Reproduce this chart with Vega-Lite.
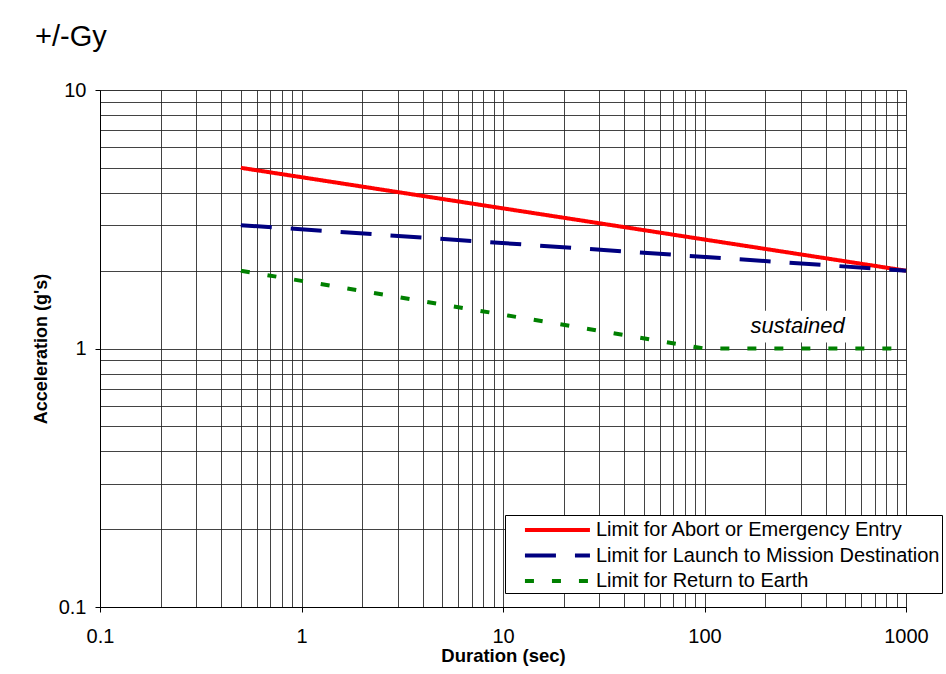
{
  "$schema": "https://vega.github.io/schema/vega-lite/v6.json",
  "width": 806,
  "height": 517,
  "autosize": {"type": "none"},
  "padding": {"left": 100, "top": 90, "right": 40, "bottom": 67},
  "background": "white",
  "title": {"text": "+/-Gy", "anchor": "start", "frame": "group", "dx": -65, "offset": 5, "baseline": "alphabetic", "font": "Liberation Sans", "fontSize": 29, "fontWeight": "normal", "color": "black"},
  "config": {
    "view": {"stroke": "#999", "strokeWidth": 1},
    "font": "Liberation Sans"
  },
  "layer": [
    {
      "data": {"values": [{"x1": 160, "x2": 540, "y1": 1.055, "y2": 1.4}]},
      "mark": {"type": "rect", "fill": "white", "stroke": null},
      "encoding": {
        "x": {"field": "x1", "type": "quantitative", "scale": {"type": "log", "domain": [0.1, 1000]}},
        "x2": {"field": "x2"},
        "y": {"field": "y1", "type": "quantitative", "scale": {"type": "log", "domain": [0.1, 10]}},
        "y2": {"field": "y2"}
      }
    },
    {
      "data": {"values": [{"x": 290, "y": 1.22, "label": "sustained"}]},
      "mark": {"type": "text", "fontStyle": "italic", "fontSize": 22, "font": "Liberation Sans", "color": "black", "align": "center", "baseline": "middle"},
      "encoding": {
        "x": {"field": "x", "type": "quantitative", "scale": {"type": "log", "domain": [0.1, 1000]}},
        "y": {"field": "y", "type": "quantitative", "scale": {"type": "log", "domain": [0.1, 10]}},
        "text": {"field": "label"}
      }
    },
    {
      "data": {"values": [
        {"series": "Limit for Abort or Emergency Entry", "duration": 0.5, "accel": 5},
        {"series": "Limit for Abort or Emergency Entry", "duration": 1000, "accel": 2},
        {"series": "Limit for Launch to Mission Destination", "duration": 0.5, "accel": 3},
        {"series": "Limit for Launch to Mission Destination", "duration": 1000, "accel": 2},
        {"series": "Limit for Return to Earth", "duration": 0.5, "accel": 2},
        {"series": "Limit for Return to Earth", "duration": 100, "accel": 1},
        {"series": "Limit for Return to Earth", "duration": 1000, "accel": 1}
      ]},
      "mark": {"type": "line", "strokeWidth": 4, "strokeCap": "butt", "clip": false},
      "encoding": {
        "x": {
          "field": "duration", "type": "quantitative",
          "scale": {"type": "log", "domain": [0.1, 1000]},
          "axis": {
            "title": "Duration (sec)",
            "values": [0.1,0.2,0.3,0.4,0.5,0.6,0.7,0.8,0.9,1,2,3,4,5,6,7,8,9,10,20,30,40,50,60,70,80,90,100,200,300,400,500,600,700,800,900,1000],
            "labelExpr": "abs(log(datum.value)/LN10 - round(log(datum.value)/LN10)) < 1e-6 ? format(datum.value, '~g') : ''",
            "tickOpacity": {"condition": {"test": "abs(log(datum.value)/LN10 - round(log(datum.value)/LN10)) < 1e-6", "value": 1}, "value": 0},
            "tickSize": 5,
            "tickColor": "black",
            "domainColor": "black",
            "gridColor": "#222",
            "gridOpacity": 0.85,
            "labelFont": "Liberation Sans",
            "labelFontSize": 20,
            "labelColor": "black",
            "labelPadding": 14,
            "labelFlush": false,
            "labelOverlap": false,
            "titleFont": "Liberation Sans",
            "titleFontSize": 18.5,
            "titleFontWeight": "bold",
            "titleColor": "black",
            "titlePadding": 0
          }
        },
        "y": {
          "field": "accel", "type": "quantitative",
          "scale": {"type": "log", "domain": [0.1, 10]},
          "axis": {
            "title": "Acceleration (g's)",
            "values": [0.1,0.2,0.3,0.4,0.5,0.6,0.7,0.8,0.9,1,2,3,4,5,6,7,8,9,10],
            "labelExpr": "abs(log(datum.value)/LN10 - round(log(datum.value)/LN10)) < 1e-6 ? format(datum.value, '~g') : ''",
            "tickOpacity": {"condition": {"test": "abs(log(datum.value)/LN10 - round(log(datum.value)/LN10)) < 1e-6", "value": 1}, "value": 0},
            "tickSize": 5,
            "tickColor": "black",
            "domainColor": "black",
            "gridColor": "#222",
            "gridOpacity": 0.85,
            "labelFont": "Liberation Sans",
            "labelFontSize": 20,
            "labelColor": "black",
            "labelPadding": 9,
            "labelFlush": false,
            "labelOverlap": false,
            "titleFont": "Liberation Sans",
            "titleFontSize": 18,
            "titleFontWeight": "bold",
            "titleColor": "black",
            "titlePadding": 8
          }
        },
        "color": {
          "field": "series", "type": "nominal",
          "scale": {"domain": ["Limit for Abort or Emergency Entry", "Limit for Launch to Mission Destination", "Limit for Return to Earth"], "range": ["#FF0000", "#000080", "#008000"]},
          "legend": {
            "title": null,
            "orient": "none",
            "legendX": 405,
            "legendY": 425,
            "symbolType": "M0.45,0H6.36",
            "symbolSize": 484,
            "symbolStrokeWidth": 4,
            "labelFont": "Liberation Sans",
            "labelFontSize": 20,
            "labelColor": "black",
            "labelLimit": 600,
            "labelOffset": 63,
            "rowPadding": 2.5,
            "fillColor": "white",
            "strokeColor": "black",
            "padding": 2
          }
        },
        "strokeDash": {
          "field": "series", "type": "nominal",
          "scale": {"domain": ["Limit for Abort or Emergency Entry", "Limit for Launch to Mission Destination", "Limit for Return to Earth"], "range": [[1, 0], [31, 19], [9, 18]]},
          "legend": null
        }
      }
    }
  ]
}
